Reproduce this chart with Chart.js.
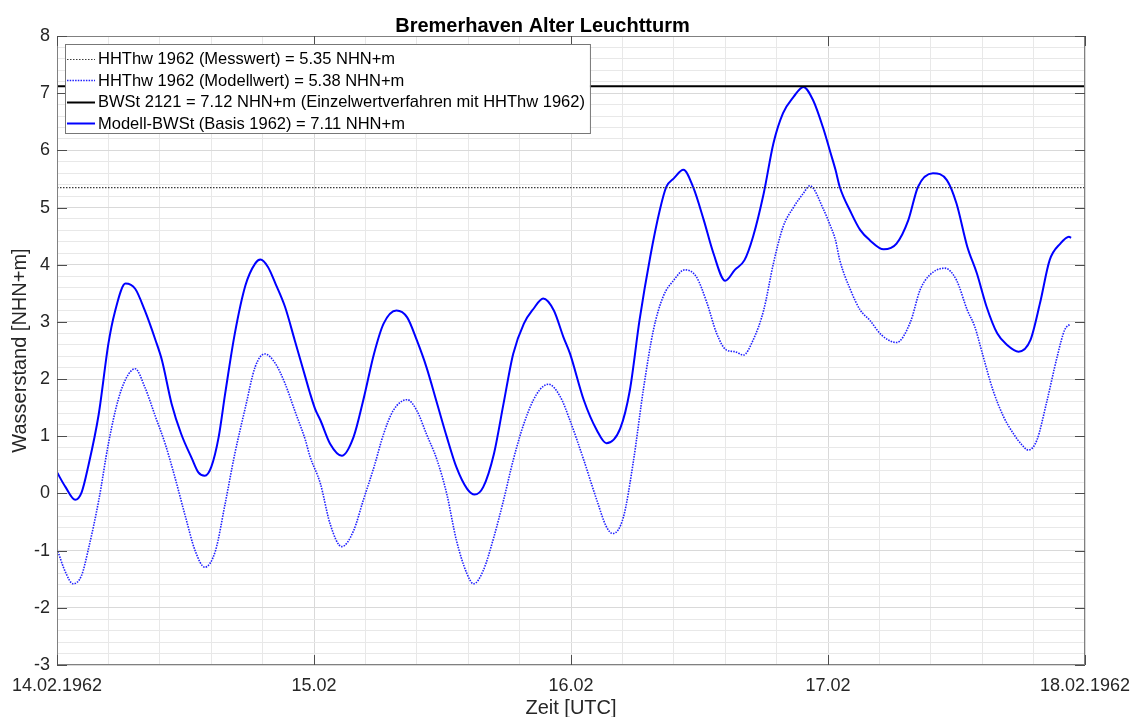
<!DOCTYPE html>
<html>
<head>
<meta charset="utf-8">
<title>Bremerhaven Alter Leuchtturm</title>
<script src="https://cdn.jsdelivr.net/npm/chart.js@4.4.1/dist/chart.umd.min.js"></script>
<style>
  html, body { margin: 0; padding: 0; background: #fff; }
  #chart { display: block; }
</style>
</head>
<body>
<canvas id="chart" width="1133" height="717"></canvas>
<script>
// x values are hours since 14.02.1962 00:00 UTC
const dayTicks = [0, 24, 48, 72, 96];
const dayLabels = ['14.02.1962', '15.02', '16.02', '17.02', '18.02.1962'];
const levelTicks = [-3, -2, -1, 0, 1, 2, 3, 4, 5, 6, 7, 8];

// Modell-BWSt (Basis 1962), solid blue
const modelTime = [0.0, 0.8, 1.7, 2.3, 2.9, 3.9, 4.8, 5.4, 6.4, 7.3, 8.2, 9.2, 9.8, 10.7, 11.6, 12.6, 13.2, 13.8, 14.4, 15.1,
  15.7, 16.6, 17.6, 18.5, 19.0, 19.7, 20.4, 21.3, 22.2, 23.2, 23.6, 24.1, 24.6, 25.5, 26.6, 27.7, 28.6, 29.6, 30.5, 31.7,
  32.7, 33.6, 34.5, 35.5, 36.4, 37.3, 38.3, 39.0, 39.8, 40.8, 41.7, 42.6, 43.6, 44.5, 45.4, 46.4, 47.3, 47.9, 49.2, 50.4,
  51.3, 52.6, 53.5, 54.4, 55.4, 56.3, 56.9, 57.6, 58.5, 59.4, 60.4, 61.3, 62.4, 63.3, 64.2, 65.0, 66.0, 66.9, 67.8, 68.8,
  69.7, 70.6, 71.6, 72.2, 72.7, 73.1, 74.1, 75.0, 75.9, 77.2, 78.4, 79.5, 80.4, 81.8, 83.1, 84.0, 85.0, 85.9, 86.8, 87.8,
  88.7, 89.8, 90.9, 91.8, 92.7, 93.7, 94.5, 94.7];
const modelLevel = [0.37, 0.11, -0.11, 0.02, 0.46, 1.39, 2.62, 3.17, 3.67, 3.58, 3.20, 2.68, 2.33, 1.57, 1.04, 0.61, 0.37, 0.31, 0.46, 0.99,
  1.74, 2.79, 3.64, 4.02, 4.09, 3.96, 3.67, 3.26, 2.68, 2.03, 1.77, 1.48, 1.28, 0.87, 0.66, 0.99, 1.63, 2.44, 2.97, 3.20,
  3.08, 2.68, 2.21, 1.57, 0.99, 0.46, 0.08, -0.02, 0.11, 0.69, 1.57, 2.44, 2.97, 3.23, 3.41, 3.20, 2.73, 2.45, 1.63, 1.11,
  0.88, 1.14, 1.81, 3.03, 4.14, 4.96, 5.36, 5.51, 5.66, 5.36, 4.78, 4.20, 3.72, 3.91, 4.08, 4.49, 5.25, 6.12, 6.65, 6.94,
  7.11, 6.88, 6.36, 5.98, 5.66, 5.36, 4.93, 4.61, 4.43, 4.27, 4.37, 4.78, 5.36, 5.60, 5.48, 5.07, 4.32, 3.85, 3.27, 2.80,
  2.60, 2.48, 2.68, 3.33, 4.08, 4.37, 4.49, 4.47];

// HHThw 1962 (Modellwert), dotted blue
const hhwTime = [0.0, 0.8, 1.5, 2.3, 2.9, 3.9, 4.8, 5.7, 6.5, 7.3, 8.2, 9.2, 10.1, 11.0, 12.0, 12.9, 13.8, 14.8, 15.7, 16.6,
  17.6, 18.5, 19.4, 20.4, 21.3, 22.2, 23.2, 23.6, 24.6, 25.5, 26.6, 27.7, 28.6, 29.6, 30.5, 31.4, 32.7, 33.6, 34.5, 35.5,
  36.4, 37.3, 38.3, 38.9, 39.8, 40.8, 41.7, 42.6, 43.6, 44.8, 45.9, 47.0, 47.9, 49.2, 50.4, 51.3, 51.9, 52.9, 53.8, 54.8,
  55.7, 56.6, 57.6, 58.6, 59.7, 60.7, 61.6, 62.5, 63.3, 64.1, 65.0, 66.0, 66.9, 67.8, 68.8, 69.7, 70.3, 71.6, 72.2, 72.7,
  73.1, 74.1, 75.0, 75.9, 77.0, 78.4, 79.7, 80.6, 81.5, 82.9, 84.0, 85.0, 85.7, 86.5, 87.4, 88.4, 89.3, 90.1, 90.7, 91.5,
  92.4, 93.4, 94.1, 94.6];
const hhwLevel = [-0.97, -1.38, -1.58, -1.43, -1.00, -0.12, 0.87, 1.63, 2.03, 2.18, 1.86, 1.34, 0.87, 0.29, -0.41, -1.00, -1.29, -1.00, -0.18, 0.69,
  1.51, 2.21, 2.44, 2.27, 1.92, 1.45, 0.93, 0.66, 0.17, -0.53, -0.93, -0.65, -0.12, 0.46, 1.04, 1.45, 1.64, 1.45, 1.04, 0.58,
  -0.01, -0.82, -1.41, -1.58, -1.35, -0.76, -0.12, 0.58, 1.22, 1.74, 1.91, 1.69, 1.28, 0.58, -0.11, -0.58, -0.70, -0.41, 0.53, 1.87,
  2.86, 3.44, 3.73, 3.91, 3.79, 3.33, 2.80, 2.51, 2.48, 2.42, 2.68, 3.21, 4.02, 4.66, 5.01, 5.25, 5.38, 4.96, 4.69, 4.43,
  4.08, 3.56, 3.21, 3.03, 2.77, 2.64, 3.00, 3.56, 3.82, 3.94, 3.73, 3.21, 2.92, 2.39, 1.81, 1.34, 1.05, 0.85, 0.76, 0.93,
  1.58, 2.39, 2.86, 2.96];

const hhwMeasured = 5.35;
const bwst2121 = 7.12;

const seriesLabels = [
  'HHThw 1962 (Messwert) = 5.35 NHN+m',
  'HHThw 1962 (Modellwert) = 5.38 NHN+m',
  'BWSt 2121 = 7.12 NHN+m (Einzelwertverfahren mit HHThw 1962)',
  'Modell-BWSt (Basis 1962) = 7.11 NHN+m'
];

const FONT = "'Liberation Sans', Arial, Helvetica, sans-serif";

function toPoints(xs, ys) {
  return xs.map((x, i) => ({ x: x, y: ys[i] }));
}

function isWhole(v, step) {
  return Math.abs(v / step - Math.round(v / step)) < 1e-6;
}

// box around the axes plus inward tick marks (matlab style)
const axesFrame = {
  id: 'axesFrame',
  afterDatasetsDraw(chart) {
    const { ctx, chartArea: a, scales } = chart;
    ctx.save();
    ctx.strokeStyle = '#808080';
    ctx.lineWidth = 1;
    ctx.strokeRect(a.left + 0.5, a.top + 0.5, a.right - a.left - 1, a.bottom - a.top - 1);
    ctx.strokeStyle = '#4d4d4d';
    ctx.beginPath();
    levelTicks.forEach(v => {
      const py = Math.round(scales.y.getPixelForValue(v)) + 0.5;
      ctx.moveTo(a.left, py); ctx.lineTo(a.left + 10, py);
      ctx.moveTo(a.right - 10, py); ctx.lineTo(a.right, py);
    });
    dayTicks.forEach(d => {
      const px = Math.round(scales.x.getPixelForValue(d)) + 0.5;
      ctx.moveTo(px, a.bottom); ctx.lineTo(px, a.bottom - 10);
      ctx.moveTo(px, a.top); ctx.lineTo(px, a.top + 10);
    });
    ctx.stroke();
    ctx.restore();
  }
};

// legend box in the upper left corner of the axes
const boxLegend = {
  id: 'boxLegend',
  afterDraw(chart) {
    const { ctx, chartArea: a } = chart;
    const sets = chart.data.datasets;
    const left = a.left + 8, top = a.top + 8;
    const rowH = 21.6;
    const textX = left + 33;
    ctx.save();
    ctx.font = '16.5px ' + FONT;
    let maxW = 0;
    sets.forEach(ds => { maxW = Math.max(maxW, ctx.measureText(ds.label).width); });
    const w = textX + maxW + 5 - left;
    const h = 89;
    ctx.fillStyle = '#fff';
    ctx.fillRect(left, top, w, h);
    ctx.strokeStyle = '#777';
    ctx.lineWidth = 1;
    ctx.strokeRect(left + 0.5, top + 0.5, w, h);
    sets.forEach((ds, i) => {
      const cy = top + 14.5 + i * rowH;
      ctx.beginPath();
      ctx.strokeStyle = ds.borderColor;
      ctx.lineWidth = ds.borderWidth;
      ctx.setLineDash(ds.borderDash || []);
      ctx.moveTo(left + 2, Math.round(cy) + 0.5);
      ctx.lineTo(left + 30, Math.round(cy) + 0.5);
      ctx.stroke();
      ctx.setLineDash([]);
      ctx.fillStyle = '#000';
      ctx.textBaseline = 'middle';
      ctx.textAlign = 'left';
      ctx.fillText(ds.label, textX, cy + 1);
    });
    ctx.restore();
  }
};

const lineBase = { pointRadius: 0, fill: false, cubicInterpolationMode: 'monotone' };

new Chart(document.getElementById('chart'), {
  type: 'line',
  data: {
    datasets: [
      Object.assign({}, lineBase, {
        label: seriesLabels[0],
        data: toPoints([0, 96], [hhwMeasured, hhwMeasured]),
        borderColor: '#3c3c3c', borderWidth: 1.2, borderDash: [1.5, 1.5]
      }),
      Object.assign({}, lineBase, {
        label: seriesLabels[1],
        data: toPoints(hhwTime, hhwLevel),
        borderColor: '#1f1fff', borderWidth: 1.6, borderDash: [1.5, 1.2]
      }),
      Object.assign({}, lineBase, {
        label: seriesLabels[2],
        data: toPoints([0, 96], [bwst2121, bwst2121]),
        borderColor: '#000', borderWidth: 2
      }),
      Object.assign({}, lineBase, {
        label: seriesLabels[3],
        data: toPoints(modelTime, modelLevel),
        borderColor: '#0000ff', borderWidth: 2
      })
    ]
  },
  options: {
    responsive: false,
    animation: false,
    devicePixelRatio: 1,
    layout: { padding: { left: 0, right: 48, top: 0, bottom: 0 } },
    plugins: {
      legend: { display: false },
      tooltip: { enabled: false },
      title: {
        display: true,
        text: 'Bremerhaven Alter Leuchtturm',
        color: '#000',
        font: { family: FONT, size: 20, weight: 'bold' },
        padding: { top: 14, bottom: -2 }
      }
    },
    scales: {
      x: {
        type: 'linear',
        min: 0,
        max: 96,
        border: { display: false },
        grid: {
          drawTicks: false,
          color: ctx => isWhole(ctx.tick.value, 24) ? '#d9d9d9' : '#e8e8e8'
        },
        ticks: {
          stepSize: 4.8,
          autoSkip: false,
          maxRotation: 0,
          minRotation: 0,
          padding: 10,
          color: '#262626',
          font: { family: FONT, size: 18 },
          callback: v => {
            const i = dayTicks.findIndex(d => Math.abs(d - v) < 1e-6);
            return i >= 0 ? dayLabels[i] : '';
          }
        },
        title: {
          display: true,
          text: 'Zeit [UTC]',
          color: '#262626',
          font: { family: FONT, size: 20 },
          padding: { top: 0, bottom: -3 }
        },
        afterFit: s => { s.height = 52; s.paddingLeft = 0; s.paddingRight = 0; }
      },
      y: {
        min: -3,
        max: 8,
        border: { display: false },
        grid: {
          drawTicks: false,
          color: ctx => isWhole(ctx.tick.value, 1) ? '#d9d9d9' : '#e8e8e8'
        },
        ticks: {
          stepSize: 0.2,
          autoSkip: false,
          padding: 7,
          color: '#262626',
          font: { family: FONT, size: 18 },
          callback: v => isWhole(v, 1) ? String(Math.round(v)) : ''
        },
        title: {
          display: true,
          text: 'Wasserstand [NHN+m]',
          color: '#262626',
          font: { family: FONT, size: 20 },
          padding: { top: 8, bottom: 0 }
        },
        afterFit: s => { s.width = 57; }
      }
    }
  },
  plugins: [axesFrame, boxLegend]
});
</script>
</body>
</html>
